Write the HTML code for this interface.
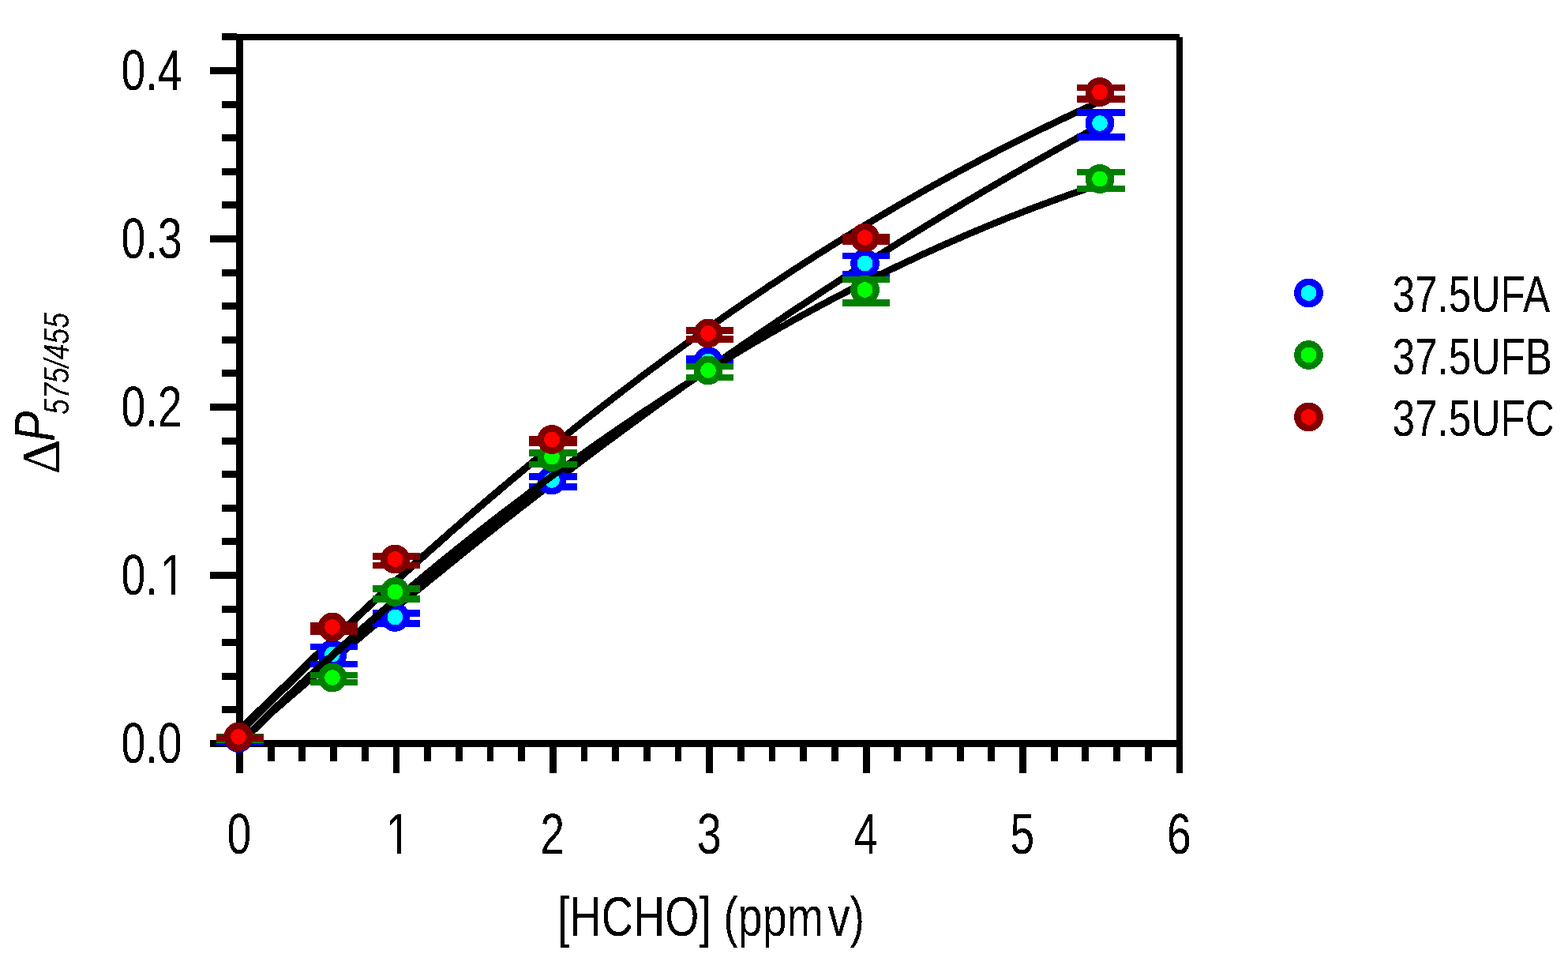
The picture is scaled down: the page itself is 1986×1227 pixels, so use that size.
<!DOCTYPE html>
<html lang="en"><head><meta charset="utf-8"><title>Figure</title>
<style>
html,body{margin:0;padding:0;background:#fff;}
body{width:1986px;height:1227px;overflow:hidden;}
svg{display:block;}
text{font-family:"Liberation Sans", sans-serif;fill:#000;}
</style></head><body>
<svg width="1986" height="1227" viewBox="0 0 1986 1227">
<rect width="1986" height="1227" fill="#fff"/>
<g shape-rendering="crispEdges">
<rect x="299" y="43" width="9" height="936" fill="#000"/>
<rect x="1490" y="47" width="8" height="932" fill="#000"/>
<rect x="299" y="43" width="1195" height="8" fill="#000"/>
<rect x="266" y="937" width="1232" height="9" fill="#000"/>
<rect x="266" y="937" width="34" height="9" fill="#000"/>
<rect x="281" y="894" width="19" height="9" fill="#000"/>
<rect x="281" y="852" width="19" height="9" fill="#000"/>
<rect x="281" y="809" width="19" height="9" fill="#000"/>
<rect x="281" y="767" width="19" height="9" fill="#000"/>
<rect x="266" y="724" width="34" height="9" fill="#000"/>
<rect x="281" y="681" width="19" height="9" fill="#000"/>
<rect x="281" y="639" width="19" height="9" fill="#000"/>
<rect x="281" y="596" width="19" height="9" fill="#000"/>
<rect x="281" y="554" width="19" height="9" fill="#000"/>
<rect x="266" y="511" width="34" height="9" fill="#000"/>
<rect x="281" y="468" width="19" height="9" fill="#000"/>
<rect x="281" y="426" width="19" height="9" fill="#000"/>
<rect x="281" y="383" width="19" height="9" fill="#000"/>
<rect x="281" y="341" width="19" height="9" fill="#000"/>
<rect x="266" y="298" width="34" height="9" fill="#000"/>
<rect x="281" y="255" width="19" height="9" fill="#000"/>
<rect x="281" y="213" width="19" height="9" fill="#000"/>
<rect x="281" y="170" width="19" height="9" fill="#000"/>
<rect x="281" y="128" width="19" height="9" fill="#000"/>
<rect x="266" y="85" width="34" height="9" fill="#000"/>
<rect x="281" y="42" width="19" height="9" fill="#000"/>
<rect x="299" y="940" width="9" height="39" fill="#000"/>
<rect x="339" y="940" width="9" height="24" fill="#000"/>
<rect x="378" y="940" width="9" height="24" fill="#000"/>
<rect x="418" y="940" width="9" height="24" fill="#000"/>
<rect x="458" y="940" width="9" height="24" fill="#000"/>
<rect x="498" y="940" width="8" height="39" fill="#000"/>
<rect x="537" y="940" width="9" height="24" fill="#000"/>
<rect x="577" y="940" width="9" height="24" fill="#000"/>
<rect x="617" y="940" width="8" height="24" fill="#000"/>
<rect x="656" y="940" width="9" height="24" fill="#000"/>
<rect x="696" y="940" width="9" height="39" fill="#000"/>
<rect x="736" y="940" width="8" height="24" fill="#000"/>
<rect x="775" y="940" width="9" height="24" fill="#000"/>
<rect x="815" y="940" width="9" height="24" fill="#000"/>
<rect x="855" y="940" width="8" height="24" fill="#000"/>
<rect x="894" y="940" width="9" height="39" fill="#000"/>
<rect x="934" y="940" width="9" height="24" fill="#000"/>
<rect x="974" y="940" width="8" height="24" fill="#000"/>
<rect x="1013" y="940" width="9" height="24" fill="#000"/>
<rect x="1053" y="940" width="9" height="24" fill="#000"/>
<rect x="1093" y="940" width="9" height="39" fill="#000"/>
<rect x="1132" y="940" width="9" height="24" fill="#000"/>
<rect x="1172" y="940" width="9" height="24" fill="#000"/>
<rect x="1212" y="940" width="9" height="24" fill="#000"/>
<rect x="1251" y="940" width="9" height="24" fill="#000"/>
<rect x="1291" y="940" width="9" height="39" fill="#000"/>
<rect x="1331" y="940" width="9" height="24" fill="#000"/>
<rect x="1370" y="940" width="9" height="24" fill="#000"/>
<rect x="1410" y="940" width="9" height="24" fill="#000"/>
<rect x="1450" y="940" width="9" height="24" fill="#000"/>
<rect x="1490" y="940" width="8" height="39" fill="#000"/>
<path d="M303.5 926.1 L308.5 921.1 L313.5 916.0 L318.4 911.0 L323.4 906.0 L328.4 901.1 L333.4 896.4 L338.4 891.8 L343.4 887.0" fill="none" stroke="#000" stroke-width="10.8" stroke-linejoin="round"/>
<path d="M338.4 891.8 L343.4 887.0 L348.3 882.1 L353.3 877.1 L358.3 872.2 L363.3 867.3 L368.3 862.4 L373.2 857.5 L378.2 852.6 L383.2 847.7 L388.2 842.9 L393.2 838.0" fill="none" stroke="#000" stroke-width="10.6" stroke-linejoin="round"/>
<path d="M388.2 842.9 L393.2 838.0 L398.2 833.1 L403.1 828.3" fill="none" stroke="#000" stroke-width="10.4" stroke-linejoin="round"/>
<path d="M398.2 833.1 L403.1 828.3 L408.1 823.4 L413.1 818.6 L418.1 813.8" fill="none" stroke="#000" stroke-width="10.2" stroke-linejoin="round"/>
<path d="M413.1 818.6 L418.1 813.8 L423.1 809.0 L428.0 804.2" fill="none" stroke="#000" stroke-width="10" stroke-linejoin="round"/>
<path d="M423.1 809.0 L428.0 804.2 L433.0 799.5 L438.0 794.7 L443.0 790.0" fill="none" stroke="#000" stroke-width="9.8" stroke-linejoin="round"/>
<path d="M438.0 794.7 L443.0 790.0 L448.0 785.3 L453.0 780.6 L457.9 776.0 L462.9 771.3 L467.9 766.7 L472.9 762.0 L477.9 757.4 L482.8 752.8 L487.8 748.2" fill="none" stroke="#000" stroke-width="9.6" stroke-linejoin="round"/>
<path d="M482.8 752.8 L487.8 748.2 L492.8 743.6 L497.8 739.1 L502.8 734.5 L507.8 730.0 L512.7 725.4 L517.7 720.9 L522.7 716.4 L527.7 711.9 L532.7 707.5 L537.6 703.0 L542.6 698.6 L547.6 694.1 L552.6 689.7 L557.6 685.3 L562.6 680.9" fill="none" stroke="#000" stroke-width="9.4" stroke-linejoin="round"/>
<path d="M557.6 685.3 L562.6 680.9 L567.5 676.5 L572.5 672.1 L577.5 667.8 L582.5 663.4 L587.5 659.1 L592.4 654.8 L597.4 650.5 L602.4 646.2 L607.4 641.9 L612.4 637.6 L617.3 633.4 L622.3 629.1 L627.3 624.9 L632.3 620.7 L637.3 616.5" fill="none" stroke="#000" stroke-width="9.2" stroke-linejoin="round"/>
<path d="M632.3 620.7 L637.3 616.5 L642.3 612.3 L647.2 608.1 L652.2 603.9 L657.2 599.8 L662.2 595.7 L667.2 591.5 L672.1 587.4 L677.1 583.3 L682.1 579.2 L687.1 575.2 L692.1 571.1 L697.1 567.0 L702.0 563.0 L707.0 559.0 L712.0 555.0" fill="none" stroke="#000" stroke-width="9" stroke-linejoin="round"/>
<path d="M707.0 559.0 L712.0 555.0 L717.0 551.0 L722.0 547.0 L726.9 543.0 L731.9 539.1 L736.9 535.1 L741.9 531.2 L746.9 527.3 L751.9 523.4 L756.8 519.5 L761.8 515.6 L766.8 511.7 L771.8 507.9 L776.8 504.0 L781.7 500.2 L786.7 496.4" fill="none" stroke="#000" stroke-width="8.8" stroke-linejoin="round"/>
<path d="M781.7 500.2 L786.7 496.4 L791.7 492.6 L796.7 488.8 L801.7 485.0 L806.7 481.3 L811.6 477.5 L816.6 473.8 L821.6 470.0 L826.6 466.3 L831.6 462.6 L836.5 459.0 L841.5 455.3 L846.5 451.6 L851.5 448.0 L856.5 444.3 L861.5 440.7 L866.4 437.1 L871.4 433.5 L876.4 429.9 L881.4 426.4 L886.4 422.8 L891.3 419.3 L896.3 415.7 L901.3 412.2 L906.3 408.7 L911.3 405.2 L916.3 401.7 L921.2 398.3 L926.2 394.8 L931.2 391.4 L936.2 388.0 L941.2 384.5 L946.1 381.1 L951.1 377.8 L956.1 374.4 L961.1 371.0 L966.1 367.7 L971.1 364.3 L976.0 361.0 L981.0 357.7 L986.0 354.4 L991.0 351.1 L996.0 347.9 L1000.9 344.6 L1005.9 341.3 L1010.9 338.1 L1015.9 334.9 L1020.9 331.7 L1025.9 328.5 L1030.8 325.3 L1035.8 322.1 L1040.8 319.0 L1045.8 315.9 L1050.8 312.7 L1055.7 309.6 L1060.7 306.5 L1065.7 303.4 L1070.7 300.3 L1075.7 297.3 L1080.7 294.2 L1085.6 291.2 L1090.6 288.2 L1095.6 285.1 L1100.6 282.1 L1105.6 279.2 L1110.5 276.2 L1115.5 273.2 L1120.5 270.3 L1125.5 267.3 L1130.5 264.4 L1135.4 261.5 L1140.4 258.6 L1145.4 255.7 L1150.4 252.9 L1155.4 250.0 L1160.4 247.2 L1165.3 244.3 L1170.3 241.5 L1175.3 238.7 L1180.3 235.9 L1185.3 233.1 L1190.2 230.4 L1195.2 227.6 L1200.2 224.9 L1205.2 222.2 L1210.2 219.4 L1215.2 216.7 L1220.1 214.0 L1225.1 211.4 L1230.1 208.7 L1235.1 206.1 L1240.1 203.4 L1245.0 200.8 L1250.0 198.2 L1255.0 195.6 L1260.0 193.0 L1265.0 190.4 L1270.0 187.9 L1274.9 185.3 L1279.9 182.8 L1284.9 180.3 L1289.9 177.8 L1294.9 175.3 L1299.8 172.8 L1304.8 170.3 L1309.8 167.9 L1314.8 165.4 L1319.8 163.0 L1324.8 160.6 L1329.7 158.2 L1334.7 155.8 L1339.7 153.4 L1344.7 151.0 L1349.7 148.7 L1354.6 146.3 L1359.6 144.0 L1364.6 141.7 L1369.6 139.4 L1374.6 137.1 L1379.6 134.8 L1384.5 132.6 L1389.5 130.3 L1394.5 128.1" fill="none" stroke="#000" stroke-width="8.6" stroke-linejoin="round"/>
<path d="M303.5 939.3 L308.5 934.9 L313.5 930.4 L318.4 926.0 L323.4 921.6 L328.4 917.1 L333.4 912.2 L338.4 907.5" fill="none" stroke="#000" stroke-width="9.4" stroke-linejoin="round"/>
<path d="M333.4 912.2 L338.4 907.5 L343.4 902.8 L348.3 898.4 L353.3 894.1 L358.3 889.7 L363.3 885.4 L368.3 881.1 L373.2 876.9 L378.2 872.6 L383.2 868.3 L388.2 864.0 L393.2 859.8 L398.2 855.5 L403.1 851.3 L408.1 847.1 L413.1 842.8 L418.1 838.6 L423.1 834.4 L428.0 830.2 L433.0 826.0 L438.0 821.9 L443.0 817.7 L448.0 813.5 L453.0 809.3 L457.9 805.2" fill="none" stroke="#000" stroke-width="9.2" stroke-linejoin="round"/>
<path d="M453.0 809.3 L457.9 805.2 L462.9 801.1 L467.9 796.9 L472.9 792.8 L477.9 788.7 L482.8 784.6 L487.8 780.5 L492.8 776.4 L497.8 772.3 L502.8 768.2 L507.8 764.1 L512.7 760.1 L517.7 756.0 L522.7 752.0 L527.7 747.9 L532.7 743.9 L537.6 739.9 L542.6 735.9 L547.6 731.8 L552.6 727.8 L557.6 723.7 L562.6 719.7 L567.5 715.7 L572.5 711.7 L577.5 707.6" fill="none" stroke="#000" stroke-width="9" stroke-linejoin="round"/>
<path d="M572.5 711.7 L577.5 707.6 L582.5 703.6 L587.5 699.6 L592.4 695.7 L597.4 691.7 L602.4 687.7 L607.4 683.7 L612.4 679.8 L617.3 675.8 L622.3 671.9 L627.3 668.0 L632.3 664.0 L637.3 660.1 L642.3 656.2 L647.2 652.3 L652.2 648.4 L657.2 644.5 L662.2 640.7 L667.2 636.8 L672.1 632.9 L677.1 629.1 L682.1 625.2 L687.1 621.4 L692.1 617.6" fill="none" stroke="#000" stroke-width="8.8" stroke-linejoin="round"/>
<path d="M687.1 621.4 L692.1 617.6 L697.1 613.8 L702.0 610.0 L707.0 606.2 L712.0 602.4 L717.0 598.6 L722.0 594.8 L726.9 591.0 L731.9 587.3 L736.9 583.5 L741.9 579.8 L746.9 576.0 L751.9 572.3 L756.8 568.6 L761.8 564.9 L766.8 561.1 L771.8 557.4 L776.8 553.8 L781.7 550.1 L786.7 546.4 L791.7 542.7 L796.7 539.1 L801.7 535.4 L806.7 531.8 L811.6 528.2 L816.6 524.5 L821.6 520.9 L826.6 517.3 L831.6 513.7 L836.5 510.1 L841.5 506.5 L846.5 502.9 L851.5 499.4 L856.5 495.8 L861.5 492.3 L866.4 488.7 L871.4 485.2 L876.4 481.6 L881.4 478.1 L886.4 474.6 L891.3 471.1 L896.3 467.6 L901.3 464.1 L906.3 460.6 L911.3 457.2 L916.3 453.7 L921.2 450.2 L926.2 446.8 L931.2 443.3 L936.2 439.9 L941.2 436.5 L946.1 433.1 L951.1 429.7 L956.1 426.3 L961.1 422.9 L966.1 419.5 L971.1 416.1 L976.0 412.7 L981.0 409.4 L986.0 406.0 L991.0 402.7 L996.0 399.3 L1000.9 396.0 L1005.9 392.7 L1010.9 389.4 L1015.9 386.1 L1020.9 382.8 L1025.9 379.5 L1030.8 376.2 L1035.8 372.9 L1040.8 369.7 L1045.8 366.4 L1050.8 363.2 L1055.7 359.9 L1060.7 356.7 L1065.7 353.5 L1070.7 350.2 L1075.7 347.0 L1080.7 343.8 L1085.6 340.6 L1090.6 337.5 L1095.6 334.3 L1100.6 331.1 L1105.6 328.0 L1110.5 324.8 L1115.5 321.7 L1120.5 318.5 L1125.5 315.4 L1130.5 312.3 L1135.4 309.2 L1140.4 306.1 L1145.4 303.0 L1150.4 299.9 L1155.4 296.8 L1160.4 293.7 L1165.3 290.7 L1170.3 287.6 L1175.3 284.6 L1180.3 281.5 L1185.3 278.5 L1190.2 275.5 L1195.2 272.4 L1200.2 269.4 L1205.2 266.4 L1210.2 263.4 L1215.2 260.5 L1220.1 257.5 L1225.1 254.5 L1230.1 251.6 L1235.1 248.6 L1240.1 245.7 L1245.0 242.7 L1250.0 239.8 L1255.0 236.9 L1260.0 234.0 L1265.0 231.1 L1270.0 228.2 L1274.9 225.3 L1279.9 222.4 L1284.9 219.5 L1289.9 216.7 L1294.9 213.8 L1299.8 211.0 L1304.8 208.1 L1309.8 205.3 L1314.8 202.5 L1319.8 199.7 L1324.8 196.9 L1329.7 194.1 L1334.7 191.3 L1339.7 188.5 L1344.7 185.7 L1349.7 182.9 L1354.6 180.2 L1359.6 177.4 L1364.6 174.7 L1369.6 172.0 L1374.6 169.2 L1379.6 166.5 L1384.5 163.8 L1389.5 161.1 L1394.5 158.4" fill="none" stroke="#000" stroke-width="8.6" stroke-linejoin="round"/>
<rect x="274" y="931" width="60" height="8" fill="#0000ff"/>
<rect x="274" y="936" width="60" height="8" fill="#0000ff"/>
<rect x="300" y="931" width="8" height="13" fill="#0000ff"/>
<circle cx="302" cy="934.5" r="14.15" fill="#00ffff" stroke="#0000ff" stroke-width="8.5"/>
<rect x="393" y="815" width="60" height="8" fill="#0000ff"/>
<rect x="393" y="837" width="60" height="8" fill="#0000ff"/>
<rect x="419" y="815" width="8" height="30" fill="#0000ff"/>
<circle cx="421" cy="828.5" r="14.15" fill="#00ffff" stroke="#0000ff" stroke-width="8.5"/>
<rect x="472" y="772" width="60" height="9" fill="#0000ff"/>
<rect x="472" y="785" width="60" height="9" fill="#0000ff"/>
<rect x="498" y="772" width="8" height="22" fill="#0000ff"/>
<circle cx="500.5" cy="781.5" r="14.15" fill="#00ffff" stroke="#0000ff" stroke-width="8.5"/>
<rect x="670" y="599" width="61" height="9" fill="#0000ff"/>
<rect x="670" y="612" width="61" height="9" fill="#0000ff"/>
<rect x="696" y="599" width="9" height="22" fill="#0000ff"/>
<circle cx="699" cy="608" r="14.15" fill="#00ffff" stroke="#0000ff" stroke-width="8.5"/>
<rect x="869" y="450" width="60" height="8" fill="#0000ff"/>
<rect x="869" y="457" width="60" height="8" fill="#0000ff"/>
<rect x="895" y="450" width="8" height="15" fill="#0000ff"/>
<circle cx="897" cy="457.5" r="14.15" fill="#00ffff" stroke="#0000ff" stroke-width="8.5"/>
<rect x="1067" y="320" width="60" height="8" fill="#0000ff"/>
<rect x="1067" y="343" width="60" height="8" fill="#0000ff"/>
<rect x="1093" y="320" width="8" height="31" fill="#0000ff"/>
<circle cx="1095.5" cy="333.5" r="14.15" fill="#00ffff" stroke="#0000ff" stroke-width="8.5"/>
<rect x="1364" y="138" width="61" height="9" fill="#0000ff"/>
<rect x="1364" y="169" width="61" height="9" fill="#0000ff"/>
<rect x="1390" y="138" width="9" height="40" fill="#0000ff"/>
<circle cx="1393" cy="156" r="14.15" fill="#00ffff" stroke="#0000ff" stroke-width="8.5"/>
<path d="M303.5 941.0 L308.5 936.2 L313.5 931.4 L318.4 926.7" fill="none" stroke="#000" stroke-width="9.8" stroke-linejoin="round"/>
<path d="M313.5 931.4 L318.4 926.7 L323.4 921.9 L328.4 917.0 L333.4 912.0 L338.4 907.0 L343.4 902.0 L348.3 897.2 L353.3 892.5 L358.3 887.8 L363.3 883.2 L368.3 878.5 L373.2 873.8 L378.2 869.2 L383.2 864.6" fill="none" stroke="#000" stroke-width="9.6" stroke-linejoin="round"/>
<path d="M378.2 869.2 L383.2 864.6 L388.2 860.0 L393.2 855.4 L398.2 850.8 L403.1 846.2 L408.1 841.7 L413.1 837.1 L418.1 832.6 L423.1 828.1 L428.0 823.6 L433.0 819.1 L438.0 814.7 L443.0 810.2 L448.0 805.8" fill="none" stroke="#000" stroke-width="9.4" stroke-linejoin="round"/>
<path d="M443.0 810.2 L448.0 805.8 L453.0 801.4 L457.9 797.0 L462.9 792.6 L467.9 788.2 L472.9 783.9 L477.9 779.6 L482.8 775.3 L487.8 771.0 L492.8 766.7 L497.8 762.5 L502.8 758.2 L507.8 754.0 L512.7 749.8" fill="none" stroke="#000" stroke-width="9.2" stroke-linejoin="round"/>
<path d="M507.8 754.0 L512.7 749.8 L517.7 745.6 L522.7 741.4 L527.7 737.3 L532.7 733.1 L537.6 729.0 L542.6 724.9 L547.6 720.8 L552.6 716.7 L557.6 712.6 L562.6 708.5 L567.5 704.5 L572.5 700.5 L577.5 696.5 L582.5 692.4" fill="none" stroke="#000" stroke-width="9" stroke-linejoin="round"/>
<path d="M577.5 696.5 L582.5 692.4 L587.5 688.5 L592.4 684.5 L597.4 680.5 L602.4 676.6 L607.4 672.6 L612.4 668.7 L617.3 664.8 L622.3 660.9 L627.3 657.1 L632.3 653.2 L637.3 649.4 L642.3 645.5 L647.2 641.7" fill="none" stroke="#000" stroke-width="8.8" stroke-linejoin="round"/>
<path d="M642.3 645.5 L647.2 641.7 L652.2 637.9 L657.2 634.1 L662.2 630.4 L667.2 626.6 L672.1 622.9 L677.1 619.1 L682.1 615.4 L687.1 611.7 L692.1 608.0 L697.1 604.4 L702.0 600.7 L707.0 597.1 L712.0 593.4 L717.0 589.8 L722.0 586.2 L726.9 582.6 L731.9 579.1 L736.9 575.5 L741.9 572.0 L746.9 568.4 L751.9 564.9 L756.8 561.4 L761.8 557.9 L766.8 554.5 L771.8 551.0 L776.8 547.6 L781.7 544.1 L786.7 540.7 L791.7 537.3 L796.7 534.0 L801.7 530.6 L806.7 527.2 L811.6 523.9 L816.6 520.6 L821.6 517.3 L826.6 514.0 L831.6 510.7 L836.5 507.4 L841.5 504.2 L846.5 500.9 L851.5 497.7 L856.5 494.5 L861.5 491.3 L866.4 488.1 L871.4 485.0 L876.4 481.8 L881.4 478.7 L886.4 475.5 L891.3 472.4 L896.3 469.3 L901.3 466.3 L906.3 463.2 L911.3 460.1 L916.3 457.1 L921.2 454.1 L926.2 451.1 L931.2 448.1 L936.2 445.1 L941.2 442.2 L946.1 439.2 L951.1 436.3 L956.1 433.3 L961.1 430.4 L966.1 427.5 L971.1 424.7 L976.0 421.8 L981.0 419.0 L986.0 416.1 L991.0 413.3 L996.0 410.5 L1000.9 407.7 L1005.9 404.9 L1010.9 402.2 L1015.9 399.4 L1020.9 396.7 L1025.9 394.0 L1030.8 391.3 L1035.8 388.6 L1040.8 385.9 L1045.8 383.3 L1050.8 380.6 L1055.7 378.0 L1060.7 375.4 L1065.7 372.8 L1070.7 370.2 L1075.7 367.6 L1080.7 365.0 L1085.6 362.5 L1090.6 360.0 L1095.6 357.4 L1100.6 354.9 L1105.6 352.5 L1110.5 350.0 L1115.5 347.5 L1120.5 345.1 L1125.5 342.7 L1130.5 340.2 L1135.4 337.8 L1140.4 335.5 L1145.4 333.1 L1150.4 330.7 L1155.4 328.4 L1160.4 326.1 L1165.3 323.7 L1170.3 321.4 L1175.3 319.2 L1180.3 316.9 L1185.3 314.6 L1190.2 312.4 L1195.2 310.2 L1200.2 308.0 L1205.2 305.8 L1210.2 303.6 L1215.2 301.4 L1220.1 299.3 L1225.1 297.1 L1230.1 295.0 L1235.1 292.9 L1240.1 290.8 L1245.0 288.7 L1250.0 286.6 L1255.0 284.6 L1260.0 282.5 L1265.0 280.5 L1270.0 278.5 L1274.9 276.5 L1279.9 274.5 L1284.9 272.6 L1289.9 270.6 L1294.9 268.7 L1299.8 266.7 L1304.8 264.8 L1309.8 262.9 L1314.8 261.1 L1319.8 259.2 L1324.8 257.4 L1329.7 255.5 L1334.7 253.7 L1339.7 251.9 L1344.7 250.1 L1349.7 248.3 L1354.6 246.5 L1359.6 244.8 L1364.6 243.1 L1369.6 241.3 L1374.6 239.6 L1379.6 237.9 L1384.5 236.3 L1389.5 234.6 L1394.5 233.0" fill="none" stroke="#000" stroke-width="8.6" stroke-linejoin="round"/>
<rect x="274" y="929" width="60" height="8" fill="#008000"/>
<rect x="274" y="933" width="60" height="8" fill="#008000"/>
<rect x="300" y="929" width="8" height="12" fill="#008000"/>
<circle cx="302" cy="933" r="14.15" fill="#00ff00" stroke="#008000" stroke-width="8.5"/>
<rect x="393" y="851" width="60" height="8" fill="#008000"/>
<rect x="393" y="860" width="60" height="8" fill="#008000"/>
<rect x="419" y="851" width="8" height="17" fill="#008000"/>
<circle cx="421" cy="858" r="14.15" fill="#00ff00" stroke="#008000" stroke-width="8.5"/>
<rect x="472" y="741" width="60" height="9" fill="#008000"/>
<rect x="472" y="754" width="60" height="9" fill="#008000"/>
<rect x="498" y="741" width="8" height="22" fill="#008000"/>
<circle cx="500.5" cy="749.5" r="14.15" fill="#00ff00" stroke="#008000" stroke-width="8.5"/>
<rect x="670" y="569" width="61" height="9" fill="#008000"/>
<rect x="670" y="584" width="61" height="8" fill="#008000"/>
<rect x="696" y="569" width="9" height="23" fill="#008000"/>
<circle cx="699" cy="578.5" r="14.15" fill="#00ff00" stroke="#008000" stroke-width="8.5"/>
<rect x="869" y="460" width="60" height="8" fill="#008000"/>
<rect x="869" y="474" width="60" height="8" fill="#008000"/>
<rect x="895" y="460" width="8" height="22" fill="#008000"/>
<circle cx="897" cy="469" r="14.15" fill="#00ff00" stroke="#008000" stroke-width="8.5"/>
<rect x="1067" y="350" width="60" height="8" fill="#008000"/>
<rect x="1067" y="379" width="60" height="9" fill="#008000"/>
<rect x="1093" y="350" width="8" height="38" fill="#008000"/>
<circle cx="1095.5" cy="367" r="14.15" fill="#00ff00" stroke="#008000" stroke-width="8.5"/>
<rect x="1364" y="214" width="61" height="8" fill="#008000"/>
<rect x="1364" y="235" width="61" height="8" fill="#008000"/>
<rect x="1390" y="214" width="9" height="29" fill="#008000"/>
<circle cx="1393" cy="226.5" r="14.15" fill="#00ff00" stroke="#008000" stroke-width="8.5"/>
<rect x="274" y="930" width="60" height="8" fill="#800000"/>
<rect x="274" y="931" width="60" height="8" fill="#800000"/>
<rect x="300" y="930" width="8" height="9" fill="#800000"/>
<circle cx="302" cy="933" r="14.15" fill="#ff0000" stroke="#800000" stroke-width="8.5"/>
<rect x="393" y="788" width="60" height="8" fill="#800000"/>
<rect x="393" y="796" width="60" height="8" fill="#800000"/>
<rect x="419" y="788" width="8" height="16" fill="#800000"/>
<circle cx="421" cy="794" r="14.15" fill="#ff0000" stroke="#800000" stroke-width="8.5"/>
<rect x="472" y="700" width="60" height="9" fill="#800000"/>
<rect x="472" y="712" width="60" height="8" fill="#800000"/>
<rect x="498" y="700" width="8" height="20" fill="#800000"/>
<circle cx="500.5" cy="708" r="14.15" fill="#ff0000" stroke="#800000" stroke-width="8.5"/>
<rect x="670" y="552" width="61" height="8" fill="#800000"/>
<rect x="670" y="557" width="61" height="8" fill="#800000"/>
<rect x="696" y="552" width="9" height="13" fill="#800000"/>
<circle cx="699" cy="556.5" r="14.15" fill="#ff0000" stroke="#800000" stroke-width="8.5"/>
<rect x="869" y="414" width="60" height="9" fill="#800000"/>
<rect x="869" y="425" width="60" height="9" fill="#800000"/>
<rect x="895" y="414" width="8" height="20" fill="#800000"/>
<circle cx="897" cy="422" r="14.15" fill="#ff0000" stroke="#800000" stroke-width="8.5"/>
<rect x="1067" y="296" width="60" height="8" fill="#800000"/>
<rect x="1067" y="302" width="60" height="8" fill="#800000"/>
<rect x="1093" y="296" width="8" height="14" fill="#800000"/>
<circle cx="1095.5" cy="301" r="14.15" fill="#ff0000" stroke="#800000" stroke-width="8.5"/>
<rect x="1364" y="107" width="61" height="8" fill="#800000"/>
<rect x="1364" y="121" width="61" height="9" fill="#800000"/>
<rect x="1390" y="107" width="9" height="23" fill="#800000"/>
<circle cx="1393" cy="116.5" r="14.15" fill="#ff0000" stroke="#800000" stroke-width="8.5"/>
<circle cx="1657.5" cy="371" r="14.15" fill="#00ffff" stroke="#0000ff" stroke-width="8.5"/>
<circle cx="1657.5" cy="449.5" r="14.15" fill="#00ff00" stroke="#008000" stroke-width="8.5"/>
<circle cx="1657.5" cy="528" r="14.15" fill="#ff0000" stroke="#800000" stroke-width="8.5"/>
</g>
<defs><filter id="bw" x="-5%" y="-5%" width="110%" height="110%" color-interpolation-filters="sRGB"><feComponentTransfer><feFuncA type="discrete" tableValues="0 1"/></feComponentTransfer></filter></defs>
<g filter="url(#bw)">
<defs><clipPath id="cy1"><rect x="140" y="690" width="100" height="57"/><rect x="140" y="747" width="63" height="10"/><rect x="217" y="747" width="5" height="10"/></clipPath><clipPath id="cx1"><rect x="480" y="1020" width="50" height="55"/><rect x="503" y="1075" width="5" height="10"/></clipPath></defs>
<text id="yt0" transform="translate(230.5 965.5) scale(0.776 1)" font-size="71.5" text-anchor="end">0.0</text>
<g clip-path="url(#cy1)">
<text id="yt1" transform="translate(233.7 752.5) scale(0.776 1)" font-size="71.5" text-anchor="end">0.<tspan dx="4.1">1</tspan></text>
</g>
<text id="yt2" transform="translate(230.5 539.5) scale(0.776 1)" font-size="71.5" text-anchor="end">0.2</text>
<text id="yt3" transform="translate(230.5 326.5) scale(0.776 1)" font-size="71.5" text-anchor="end">0.3</text>
<text id="yt4" transform="translate(230.5 113.5) scale(0.776 1)" font-size="71.5" text-anchor="end">0.4</text>
<text id="xt0" transform="translate(303 1080.5) scale(0.776 1)" font-size="71.5" text-anchor="middle">0</text>
<g clip-path="url(#cx1)">
<text id="xt1" transform="translate(504.2 1080.5) scale(0.776 1)" font-size="71.5" text-anchor="middle">1</text>
</g>
<text id="xt2" transform="translate(699.8 1080.5) scale(0.776 1)" font-size="71.5" text-anchor="middle">2</text>
<text id="xt3" transform="translate(898.2 1080.5) scale(0.776 1)" font-size="71.5" text-anchor="middle">3</text>
<text id="xt4" transform="translate(1096.6 1080.5) scale(0.776 1)" font-size="71.5" text-anchor="middle">4</text>
<text id="xt5" transform="translate(1295 1080.5) scale(0.776 1)" font-size="71.5" text-anchor="middle">5</text>
<text id="xt6" transform="translate(1493.4 1080.5) scale(0.776 1)" font-size="71.5" text-anchor="middle">6</text>
<text id="xtitle" transform="translate(706.2 1185) scale(0.789 1)" font-size="70.5" text-anchor="start">[HCHO] (ppm<tspan dx="7.2">v)</tspan></text>
<text id="lg0" transform="translate(1763.5 395.3) scale(0.79 1)" font-size="65" text-anchor="start">37.5UFA</text>
<text id="lg1" transform="translate(1763.5 473.75) scale(0.79 1)" font-size="65" text-anchor="start">37.5UFB</text>
<text id="lg2" transform="translate(1763.5 552.2) scale(0.79 1)" font-size="65" text-anchor="start">37.5UFC</text>
<text id="ydelta" transform="translate(74.2 600.3) rotate(-90) scale(1 1)" font-size="68" text-anchor="start" style="font-family:'Liberation Serif', 'DejaVu Serif', serif">Δ</text>
<text id="yP" transform="translate(69 559) rotate(-90) scale(0.8 1)" font-size="72" text-anchor="start" font-style="italic">P</text>
<text id="ysub" transform="translate(86.8 525) rotate(-90) scale(0.795 1)" font-size="45" text-anchor="start" font-style="italic">575/455</text>
</g>
</svg>
</body></html>
